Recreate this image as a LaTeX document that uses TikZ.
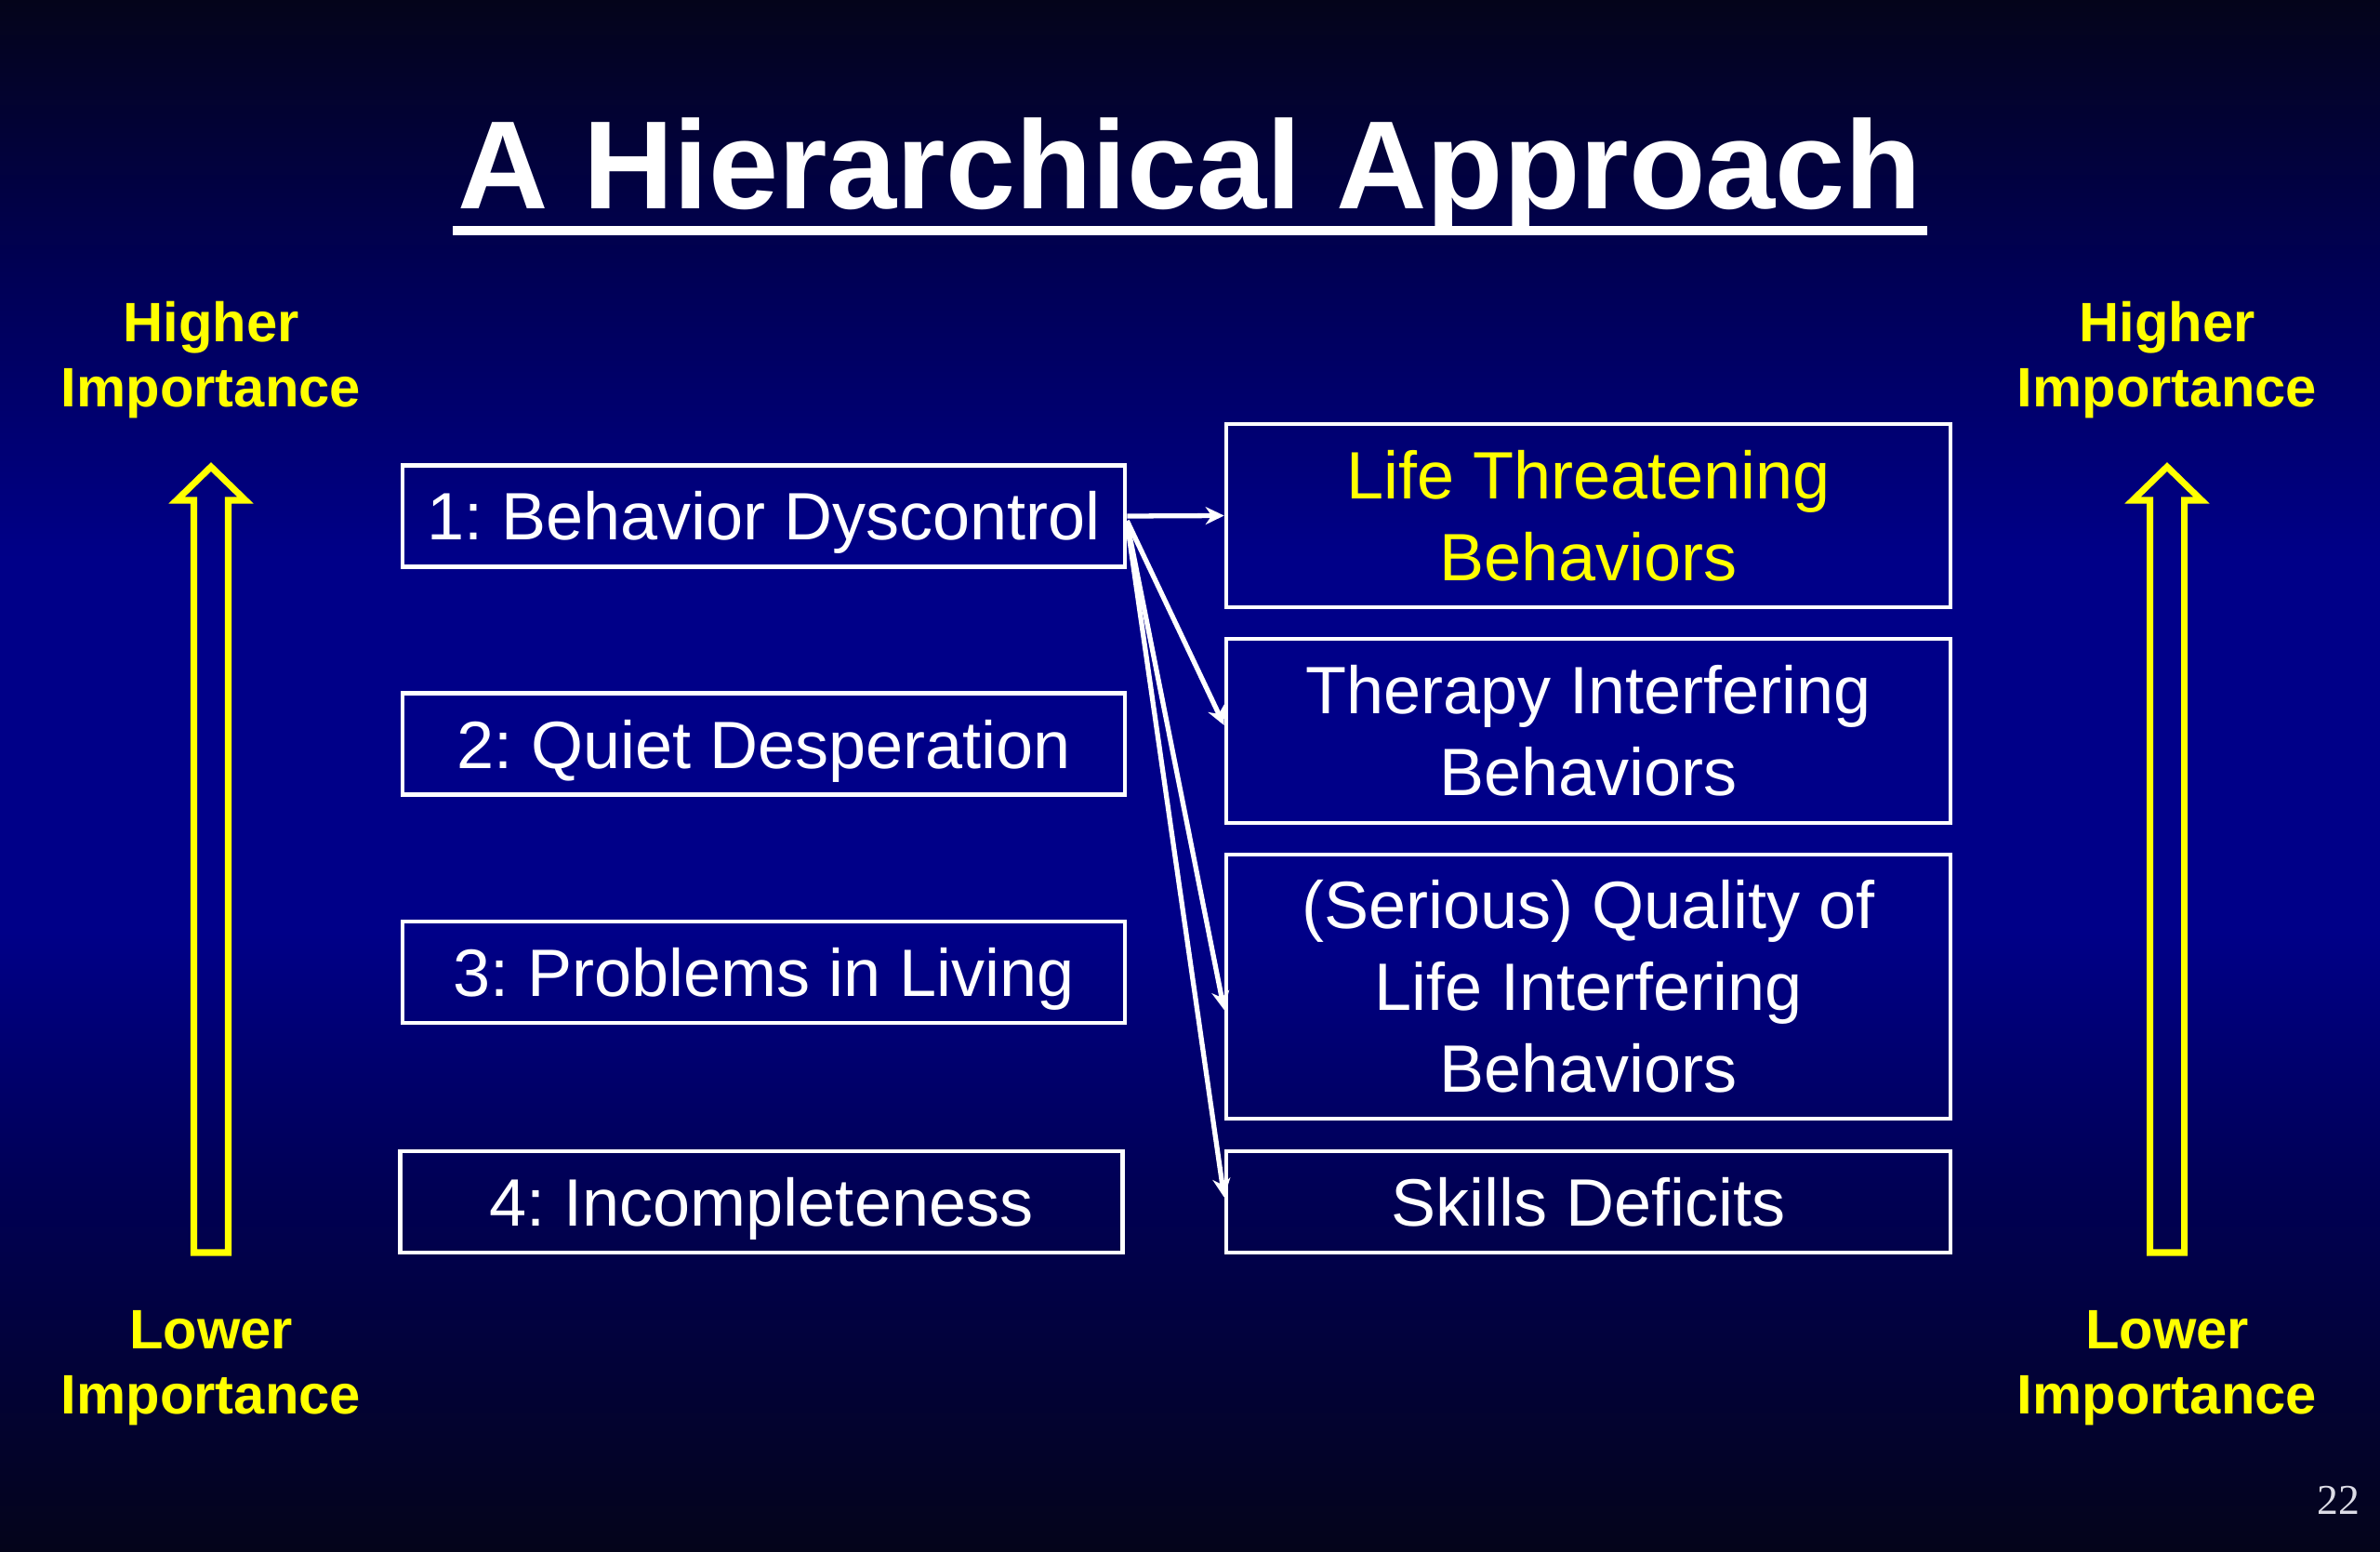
\documentclass[tikz,border=0pt]{standalone}
\usepackage{fontspec}
\setmainfont{Liberation Sans}
\setsansfont{Liberation Sans}
\newfontfamily\pagefont{Liberation Serif}
\usepackage{tikz}
\usetikzlibrary{arrows.meta}
\frenchspacing

\definecolor{bgdark}{RGB}{4,4,26}
\definecolor{bgmid}{RGB}{0,0,86}
\definecolor{bgblue}{RGB}{0,0,136}
\definecolor{hiyellow}{RGB}{255,255,0}
\pgfdeclareverticalshading{slidebg}{100bp}{color(0bp)=(bgdark); color(25bp)=(bgdark);
  color(37bp)=(bgmid); color(45bp)=(bgblue); color(57bp)=(bgblue); color(66bp)=(bgmid);
  color(75bp)=(bgdark); color(100bp)=(bgdark)}

\begin{document}
\begin{tikzpicture}
    [ font=\sffamily, x=1cm, y=1cm,
      level/.style={draw=white, line width=1.3pt, text=white, inner sep=0pt,
        minimum width=7.77cm, minimum height=1.09cm, text height=0.52cm, text depth=0pt,
        font=\sffamily\fontsize{20.5}{25}\selectfont},
      target/.style={draw=white, line width=1.3pt, text=white, inner sep=0pt, align=center,
        minimum width=7.79cm, font=\sffamily\fontsize{20.5}{25}\selectfont},
      importance/.style={text=hiyellow, align=center, inner sep=0pt,
        font=\sffamily\bfseries\fontsize{17}{19.9}\selectfont},
      imparrow/.style={draw=hiyellow, line width=2pt, line join=miter},
      link/.style={white, line width=1.5pt, -{Stealth[length=0.2cm, width=0.19cm]}},
    ]
    \useasboundingbox (0, 0) rectangle (25.6, -16.69);
    \shade[shading=slidebg] (0, 0) rectangle (25.6, -16.69);

    \node[text=white, inner sep=0pt, anchor=base, font=\sffamily\bfseries\fontsize{38.4}{46}\selectfont]
        (title) at (12.80, -2.25) {A Hierarchical Approach};
    \draw[white, line width=2.6pt] ([xshift=-0.05cm, yshift=-0.23cm]title.base west) --
        ([xshift=0.05cm, yshift=-0.23cm]title.base east);

    % importance scale on both sides
    \foreach \sx / \side in {2.27/left, 23.31/right} {
        \node[importance] (high\side) at (\sx, -3.87) {Higher\\Importance};
        \node[importance] (low\side) at (\sx, -14.71) {Lower\\Importance};
        \draw[imparrow, shift={(\sx, 0)}]
            (0, -5.02) -- (0.37, -5.38) -- (0.185, -5.38) -- (0.185, -13.47) --
            (-0.185, -13.47) -- (-0.185, -5.38) -- (-0.37, -5.38) -- cycle;
    }

    \foreach \i / \sy / \txt in {1/-5.55/1: Behavior Dyscontrol, 2/-8.00/2: Quiet Desperation,
                                 3/-10.455/3: Problems in Living} {
        \node[level] (l\i) at (8.215, \sy) {\txt};
    }
    \node[level] (l4) at (8.19, -12.925) {4: Incompleteness};

    \node[target, minimum height=1.97cm, text=hiyellow] (r1) at (17.085, -5.545) {Life Threatening\\Behaviors};
    \node[target, minimum height=1.98cm] (r2) at (17.085, -7.86) {Therapy Interfering\\Behaviors};
    \node[target, minimum height=2.84cm] (r3) at (17.085, -10.61) {(Serious) Quality of\\Life Interfering\\Behaviors};
    \node[target, minimum height=1.09cm] (r4) at (17.085, -12.925) {Skills Deficits};

    \draw[link] (l1.east) -- (r1.west);
    \draw[link] ([yshift=-0.05cm]l1.east) -- ([yshift=0.06cm]r2.west);
    \draw[link] ([yshift=-0.07cm]l1.east) -- ([yshift=-0.25cm]r3.west);
    \draw[link] ([yshift=-0.07cm]l1.east) -- ([yshift=0.05cm]r4.west);

    \node[text={rgb,255:red,220;green,220;blue,230}, anchor=base, inner sep=0pt,
        font=\pagefont\fontsize{13}{15}\selectfont] (page) at (25.15, -16.28) {22};
\end{tikzpicture}
\end{document}
